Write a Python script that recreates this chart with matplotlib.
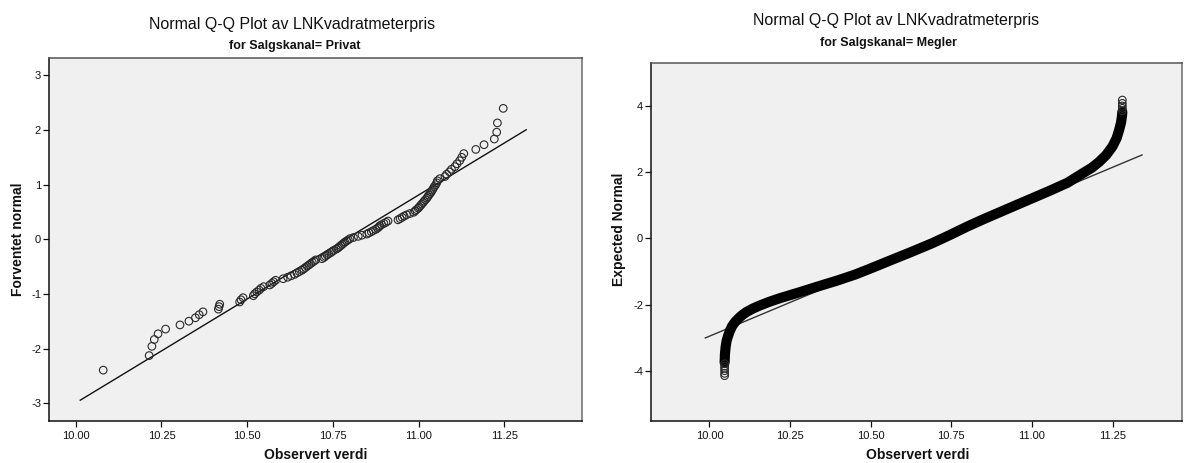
import matplotlib
matplotlib.use("Agg")
import matplotlib.pyplot as plt
from matplotlib.ticker import FormatStrFormatter

plt.rcParams["font.family"] = ["Liberation Sans", "DejaVu Sans"]
plt.rcParams["axes.unicode_minus"] = False

# ---------------- Privat: observed log price per m2 vs expected normal ----------------
privat_observed = [
    10.080, 10.214, 10.222, 10.229, 10.240, 10.262, 10.304, 10.330, 10.349, 10.360,
    10.371, 10.416, 10.418, 10.420, 10.478, 10.482, 10.488, 10.518, 10.522, 10.528,
    10.535, 10.540, 10.548, 10.566, 10.572, 10.577, 10.583, 10.605, 10.618, 10.628,
    10.638, 10.645, 10.652, 10.660, 10.665, 10.670, 10.675, 10.680, 10.685, 10.690,
    10.695, 10.700, 10.718, 10.724, 10.728, 10.733, 10.738, 10.744, 10.748, 10.753,
    10.760, 10.765, 10.769, 10.773, 10.777, 10.781, 10.785, 10.790, 10.795,
    10.800, 10.810, 10.824, 10.835, 10.849, 10.855, 10.862, 10.868, 10.875, 10.880,
    10.884, 10.887, 10.892, 10.899, 10.905, 10.911, 10.940, 10.946, 10.952, 10.958,
    10.965, 10.975, 10.986, 10.990, 10.994, 10.999, 11.002, 11.006, 11.009, 11.013,
    11.016, 11.020, 11.024, 11.027, 11.030, 11.034, 11.037, 11.040, 11.043, 11.046,
    11.050, 11.053, 11.055, 11.062, 11.077, 11.082, 11.090, 11.096, 11.106, 11.112,
    11.120, 11.126, 11.132, 11.167, 11.191, 11.221, 11.228, 11.230, 11.247,
]
privat_expected = [
    -2.391, -2.125, -1.956, -1.831, -1.727, -1.641, -1.565, -1.497, -1.435, -1.378,
    -1.326, -1.277, -1.231, -1.187, -1.146, -1.106, -1.068, -1.031, -0.996, -0.962,
    -0.929, -0.897, -0.866, -0.835, -0.806, -0.777, -0.749, -0.721, -0.694, -0.668,
    -0.642, -0.616, -0.591, -0.566, -0.542, -0.517, -0.493, -0.470, -0.446, -0.423,
    -0.400, -0.377, -0.355, -0.333, -0.310, -0.288, -0.266, -0.245, -0.223, -0.202,
    -0.180, -0.159, -0.137, -0.116, -0.095, -0.074, -0.053, -0.032, -0.011,
    0.011, 0.032, 0.053, 0.074, 0.095, 0.116, 0.137, 0.159, 0.180, 0.202,
    0.223, 0.245, 0.266, 0.288, 0.310, 0.333, 0.355, 0.377, 0.400, 0.423,
    0.446, 0.470, 0.493, 0.517, 0.542, 0.566, 0.591, 0.616, 0.642, 0.668,
    0.694, 0.721, 0.749, 0.777, 0.806, 0.835, 0.866, 0.897, 0.929, 0.962,
    0.996, 1.031, 1.068, 1.106, 1.146, 1.187, 1.231, 1.277, 1.326, 1.378,
    1.435, 1.497, 1.565, 1.641, 1.727, 1.831, 1.956, 2.125, 2.391,
]
privat_line_x = [10.013, 11.314]
privat_line_y = [-2.94, 2.00]

# ---------------- Megler: dense band of observations ----------------
megler_band_x = [10.047, 10.048, 10.050, 10.053, 10.058, 10.064, 10.071, 10.080,
                 10.089, 10.100, 10.114, 10.135, 10.156, 10.185, 10.218, 10.279,
                 10.341, 10.398, 10.450, 10.497, 10.560, 10.626, 10.690, 10.743,
                 10.800, 10.850, 10.950, 11.053, 11.110, 11.156, 11.185, 11.208,
                 11.230, 11.249, 11.262, 11.270, 11.276, 11.279, 11.280]
megler_band_y = [-3.75, -3.50, -3.29, -3.10, -2.94, -2.78, -2.64, -2.52,
                 -2.43, -2.33, -2.23, -2.12, -2.03, -1.92, -1.81, -1.63,
                 -1.44, -1.27, -1.10, -0.92, -0.67, -0.41, -0.15, 0.09,
                 0.36, 0.58, 1.00, 1.43, 1.68, 1.96, 2.13, 2.31,
                 2.52, 2.77, 3.02, 3.27, 3.50, 3.70, 3.82]
# individually visible extreme observations at both tails
megler_tail_x = [10.047, 10.047, 10.047, 10.047, 10.047, 10.047,
                 11.280, 11.280, 11.280, 11.280, 11.280]
megler_tail_y = [-4.15, -4.08, -4.00, -3.93, -3.86, -3.79,
                 3.86, 3.93, 4.00, 4.08, 4.18]
megler_line_x = [9.987, 11.341]
megler_line_y = [-3.01, 2.52]

x_ticks = [10.00, 10.25, 10.50, 10.75, 11.00, 11.25]
privat_y_ticks = [-3, -2, -1, 0, 1, 2, 3]
megler_y_ticks = [-4, -2, 0, 2, 4]

BG = "#f0f0f0"
INK = "#111111"
W, H = 1184, 463
fig = plt.figure(figsize=(W / 100, H / 100), dpi=100)


def px_axes(left, top, right, bottom):
    return fig.add_axes([left / W, 1 - bottom / H, (right - left) / W, (bottom - top) / H])


def style(ax):
    ax.set_facecolor(BG)
    for side in ("left", "bottom"):
        ax.spines[side].set_color(INK)
        ax.spines[side].set_linewidth(1.1)
    ax.spines["top"].set_color("#555555")
    ax.spines["top"].set_linewidth(1.1)
    ax.spines["right"].set_color("#8a8a8a")
    ax.spines["right"].set_linewidth(1.4)
    ax.tick_params(axis="both", direction="out", length=4, width=0.9,
                   labelsize=8, colors=INK, pad=2)
    ax.tick_params(axis="x", pad=3.5)
    ax.set_xticks(x_ticks)
    ax.xaxis.set_major_formatter(FormatStrFormatter("%.2f"))


ax1 = px_axes(49.4, 57.5, 582.4, 421)
style(ax1)
ax1.plot(privat_line_x, privat_line_y, color=INK, lw=1.0, zorder=2)
ax1.scatter(privat_observed, privat_expected, s=30, facecolors="none",
            edgecolors="#2a2a2a", linewidths=0.8, zorder=3)
ax1.set_xlim(9.923, 11.478)
ax1.set_ylim(-3.32, 3.32)
ax1.set_yticks(privat_y_ticks)

ax2 = px_axes(651.4, 63.3, 1182, 421)
style(ax2)
ax2.plot(megler_line_x, megler_line_y, color="#333333", lw=1.0, zorder=2)
ax2.plot(megler_band_x, megler_band_y, color="black", lw=7.3,
         solid_capstyle="round", solid_joinstyle="round", zorder=3)
ax2.scatter(megler_tail_x, megler_tail_y, s=30, facecolors="none",
            edgecolors="#2a2a2a", linewidths=0.8, zorder=4)
ax2.set_xlim(9.820, 11.465)
ax2.set_ylim(-5.52, 5.29)
ax2.set_yticks(megler_y_ticks)

# titles and axis labels
title = "Normal Q-Q Plot av LNKvadratmeterpris"
fig.text(292.5 / W, 1 - 24 / H, title, ha="center", va="center",
         fontsize=11.5, color=INK)
fig.text(295 / W, 1 - 46 / H, "for Salgskanal= Privat", ha="center", va="center",
         fontsize=9, fontweight="bold", color=INK)
fig.text(896.5 / W, 1 - 21 / H, title, ha="center", va="center",
         fontsize=11.5, color=INK)
fig.text(888 / W, 1 - 43 / H, "for Salgskanal= Megler", ha="center", va="center",
         fontsize=9, fontweight="bold", color=INK)

fig.text(18 / W, 1 - 239 / H, "Forventet normal", rotation=90,
         ha="center", va="center", fontsize=10, fontweight="bold", color=INK)
fig.text(619 / W, 1 - 229 / H, "Expected Normal", rotation=90,
         ha="center", va="center", fontsize=10, fontweight="bold", color=INK)
fig.text(316 / W, 1 - 455 / H, "Observert verdi",
         ha="center", va="center", fontsize=10, fontweight="bold", color=INK)
fig.text(918 / W, 1 - 455 / H, "Observert verdi",
         ha="center", va="center", fontsize=10, fontweight="bold", color=INK)

fig.savefig("out.png", dpi=100, facecolor="white")
